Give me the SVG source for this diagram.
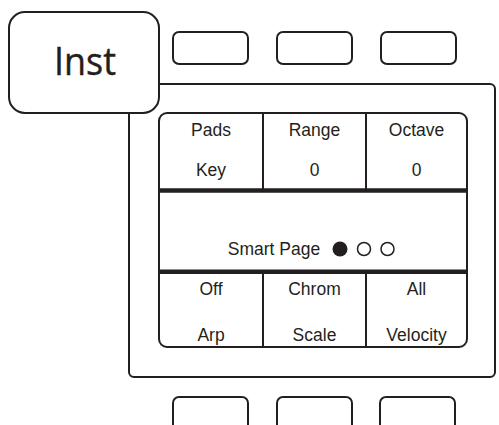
<svg xmlns="http://www.w3.org/2000/svg" width="499" height="425" viewBox="0 0 499 425">
  <style>
    .box { fill: #ffffff; stroke: #231f20; stroke-width: 2; }
    .btn { fill: #ffffff; stroke: #231f20; stroke-width: 2; }
    .div { stroke: #231f20; stroke-width: 2; fill: none; }
    .bar { stroke: #231f20; stroke-width: 4.5; fill: none; }
    .lbl { font-family: "Liberation Sans", Arial, sans-serif; font-size: 17.5px; fill: #231f20; text-anchor: middle; }
    .big { font-family: "Open Sans", "Liberation Sans", sans-serif; font-size: 38px; fill: #231f20; text-anchor: middle; stroke: #231f20; stroke-width: 0.4; }
  </style>

  <!-- device body -->
  <g id="frame">
    <rect class="box" x="129" y="84" width="366" height="293" rx="5"/>
  </g>

  <!-- Inst button overlapping the body corner -->
  <g id="inst">
    <rect class="box" x="9" y="12" width="150" height="101" rx="16"/>
    <text class="big" x="85" y="75" textLength="62" lengthAdjust="spacingAndGlyphs">Inst</text>
  </g>

  <!-- upper soft keys -->
  <g id="top-keys">
    <rect class="btn" x="173" y="32" width="75" height="32" rx="6"/>
    <rect class="btn" x="277" y="32" width="75" height="32" rx="6"/>
    <rect class="btn" x="381" y="32" width="75" height="32" rx="6"/>
  </g>

  <!-- lower soft keys -->
  <g id="bottom-keys">
    <rect class="btn" x="173" y="397" width="75" height="40" rx="6"/>
    <rect class="btn" x="277" y="397" width="75" height="40" rx="6"/>
    <rect class="btn" x="380" y="397" width="75" height="40" rx="6"/>
  </g>

  <!-- display -->
  <g id="screen">
    <rect class="box" x="159" y="113" width="308" height="234" rx="8"/>
  </g>

  <g id="dividers">
    <line class="div" x1="263" y1="113" x2="263" y2="190"/>
    <line class="div" x1="366" y1="113" x2="366" y2="190"/>
    <line class="div" x1="263" y1="272" x2="263" y2="347"/>
    <line class="div" x1="366" y1="272" x2="366" y2="347"/>
    <line class="bar" x1="159" y1="190.5" x2="467" y2="190.5"/>
    <line class="bar" x1="159" y1="271.7" x2="467" y2="271.7"/>
  </g>

  <!-- top row parameters -->
  <g id="top-row">
    <text class="lbl" x="211" y="135.5">Pads</text>
    <text class="lbl" x="211" y="176">Key</text>
    <text class="lbl" x="314.5" y="135.5">Range</text>
    <text class="lbl" x="314.5" y="176">0</text>
    <text class="lbl" x="416.5" y="135.5">Octave</text>
    <text class="lbl" x="416.5" y="176">0</text>
  </g>

  <!-- page indicator -->
  <g id="smart-page">
    <text class="lbl" x="274" y="255">Smart Page</text>
    <circle cx="340" cy="249" r="7.5" fill="#231f20"/>
    <circle cx="364" cy="249" r="6.5" fill="none" stroke="#231f20" stroke-width="1.5"/>
    <circle cx="387.5" cy="249" r="6.5" fill="none" stroke="#231f20" stroke-width="1.5"/>
  </g>

  <!-- bottom row parameters -->
  <g id="bottom-row">
    <text class="lbl" x="211" y="295">Off</text>
    <text class="lbl" x="211" y="341">Arp</text>
    <text class="lbl" x="314.5" y="295">Chrom</text>
    <text class="lbl" x="314.5" y="341">Scale</text>
    <text class="lbl" x="416.5" y="295">All</text>
    <text class="lbl" x="416.5" y="341">Velocity</text>
  </g>
</svg>
